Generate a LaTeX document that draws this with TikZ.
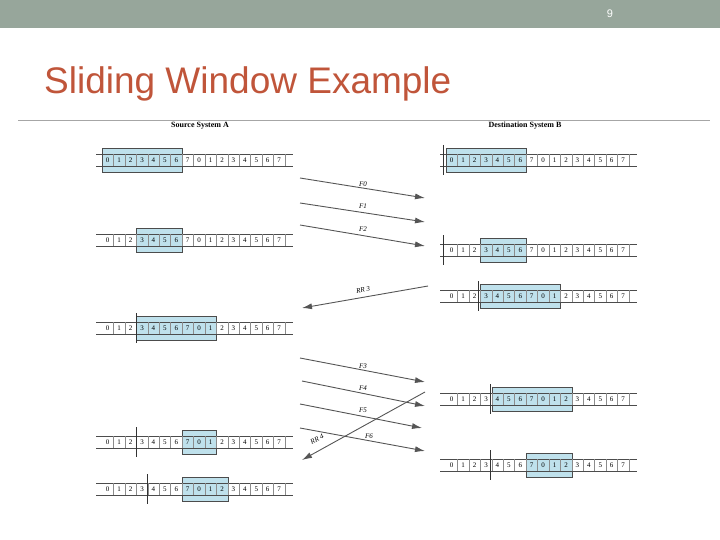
\documentclass[tikz,border=0pt]{standalone}
\usepackage{fontspec}
\setsansfont{Liberation Sans}
\setmainfont{Liberation Serif}
\definecolor{hdr}{HTML}{97A69B}
\definecolor{ttl}{HTML}{C0553A}
\definecolor{win}{HTML}{BFE1EC}
\definecolor{arr}{HTML}{555555}
\tikzset{num/.style={font=\fontsize{7}{8}\selectfont,inner sep=0pt},
 lbl/.style={font=\fontsize{7}{8}\selectfont\itshape,inner sep=1pt},
 msg/.style={draw=arr,line width=0.9pt,-{Latex[length=10pt,width=6pt]}}}
\usetikzlibrary{arrows.meta}
\newcommand\mystrip[5]{% x0, y, box first, box last, bar x (or none)
 \fill[win] ({#1+#3*11.43},{#2-12}) rectangle ({#1+(#4+1)*11.43},{#2+12});
 \draw[black!70] ({#1+#3*11.43},{#2-12}) rectangle ({#1+(#4+1)*11.43},{#2+12});
 \draw[black!70] ({#1-6},{#2-6}) -- ({#1+16*11.43+8},{#2-6}) ({#1-6},{#2+6}) -- ({#1+16*11.43+8},{#2+6});
 \foreach \i in {1,...,16}{\draw[black!45] ({#1+\i*11.43},{#2-6}) -- ({#1+\i*11.43},{#2+6});}
 \foreach \i in {0,...,15}{\pgfmathtruncatemacro\v{mod(\i,8)}\node[num] at ({#1+(\i+0.5)*11.43},#2) {\v};}
 \ifx\relax#5\relax\else\draw[black!80,line width=0.7pt] (#5,{#2-15}) -- (#5,{#2+15});\fi
}
\begin{document}
\begin{tikzpicture}[x=1pt,y=-1pt]
\useasboundingbox (0,0) rectangle (720,540);
\fill[hdr] (0,0) rectangle (720,28);
\node[text=white,font=\sffamily\fontsize{11}{12}\selectfont] (pg) at (610,14) {9};
\node[text=ttl,font=\sffamily\fontsize{37}{40}\selectfont,anchor=west,inner sep=0pt] (title) at (44,84) {Sliding Window Example};
\draw[black!35] (18,120) -- (710,120);
\node[font=\bfseries\fontsize{8}{9}\selectfont] (sa) at (200,126) {Source System A};
\node[font=\bfseries\fontsize{8}{9}\selectfont] (db) at (525,126) {Destination System B};
% source strips
\mystrip{102}{160}{0}{6}{}
\mystrip{102}{240}{3}{6}{}
\mystrip{102}{328}{3}{9}{136.3}
\mystrip{102}{442}{7}{9}{136.3}
\mystrip{102}{489}{7}{10}{147.7}
% destination strips
\mystrip{446}{160}{0}{6}{443}
\mystrip{446}{250}{3}{6}{443}
\mystrip{446}{296}{3}{9}{478}
\mystrip{446}{399}{4}{10}{490}
\mystrip{446}{465}{7}{10}{490}
% arrows
\coordinate (a0) at (300,178); \coordinate (b0) at (425,198);
\coordinate (a1) at (300,203); \coordinate (b1) at (425,222);
\coordinate (a2) at (300,225); \coordinate (b2) at (425,246);
\coordinate (r3a) at (428,286); \coordinate (r3b) at (302,308);
\coordinate (a3) at (300,358); \coordinate (b3) at (425,382);
\coordinate (a4) at (302,381); \coordinate (b4) at (425,406);
\coordinate (a5) at (300,404); \coordinate (b5) at (422,428);
\coordinate (a6) at (300,428); \coordinate (b6) at (425,451);
\coordinate (r4a) at (425,392); \coordinate (r4b) at (302,460);
\draw[msg] (a0) -- (b0); \draw[msg] (a1) -- (b1); \draw[msg] (a2) -- (b2);
\draw[msg] (r3a) -- (r3b);
\draw[msg] (a3) -- (b3); \draw[msg] (a4) -- (b4); \draw[msg] (a5) -- (b5); \draw[msg] (a6) -- (b6);
\draw[msg] (r4a) -- (r4b);
\node[lbl] (l0) at (363,184) {F0};
\node[lbl] (l1) at (363,206) {F1};
\node[lbl] (l2) at (363,229) {F2};
\node[lbl,rotate=10] (l3) at (363,290) {RR 3};
\node[lbl] (l4) at (363,366) {F3};
\node[lbl] (l5) at (363,388) {F4};
\node[lbl] (l6) at (363,410) {F5};
\node[lbl] (l7) at (369,436) {F6};
\node[lbl,rotate=28] (l8) at (317,439) {RR 4};
\end{tikzpicture}
\end{document}
